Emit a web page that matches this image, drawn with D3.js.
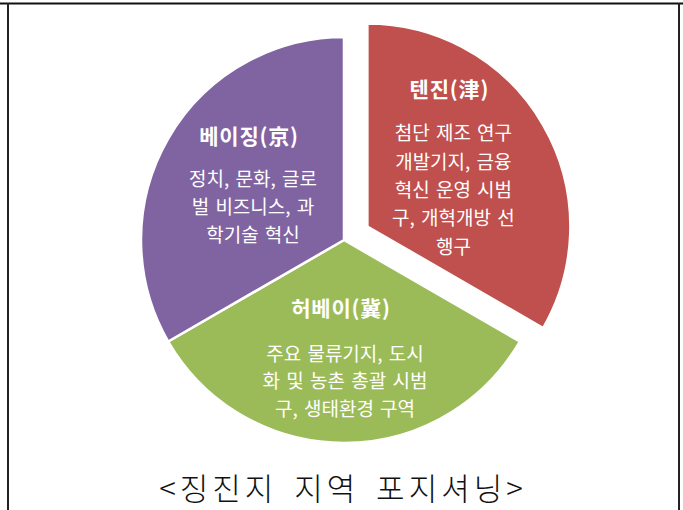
<!DOCTYPE html>
<html>
<head>
<meta charset="utf-8">
<script src="https://cdn.jsdelivr.net/npm/d3@7"></script>
<style>
  html, body { margin: 0; padding: 0; background: #fff; }
  svg { display: block; }
</style>
</head>
<body>
<svg id="chart" width="683" height="510"></svg>
<script>
// ---- data ----
const regions = ["텐진(津)", "허베이(冀)", "베이징(京)"];
const values = [1, 1, 1];
const colors = ["#C0504D", "#9BBB59", "#8064A2"];
const descriptions = [
  ["첨단 제조 연구", "개발기지, 금융", "혁신 운영 시범", "구, 개혁개방 선", "행구"],
  ["주요 물류기지, 도시", "화 및 농촌 총괄 시범", "구, 생태환경 구역"],
  ["정치, 문화, 글로", "벌 비즈니스, 과", "학기술 혁신"]
];
const caption = "<징진지 지역 포지셔닝>";

// ---- layout / style ----
const W = 683, H = 510;
const cx = 344, cy = 240, R = 203;
const explode = [27, 0, 0];
// label block centre, relative to each slice's own origin
const labelAt = [[86, -60], [1, 117], [-91, -56]];
const titleGap = [44, 45, 42];
const lineH = [28.3, 27.5, 28];
const svg = d3.select("#chart");
const fontKR = "'Noto Sans CJK KR', 'Noto Sans', sans-serif";

// frame
svg.append("line").attr("x1", 0).attr("x2", W).attr("y1", 3.5).attr("y2", 3.5)
  .attr("stroke", "#111").attr("stroke-width", 2);
svg.append("line").attr("x1", 8).attr("x2", 8).attr("y1", 3).attr("y2", H)
  .attr("stroke", "#222").attr("stroke-width", 2);
svg.append("line").attr("x1", 679).attr("x2", 679).attr("y1", 3).attr("y2", H)
  .attr("stroke", "#222").attr("stroke-width", 2);

const pie = d3.pie().sort(null).value(d => d)(values);
const arc = d3.arc().innerRadius(0).outerRadius(R);

const g = svg.append("g").attr("transform", `translate(${cx},${cy})`);

const slices = g.selectAll("g.slice").data(pie).join("g")
  .attr("class", "slice")
  .attr("transform", (d, i) => {
    const a = (d.startAngle + d.endAngle) / 2;
    return `translate(${Math.sin(a) * explode[i]},${-Math.cos(a) * explode[i]})`;
  });

slices.append("path")
  .attr("d", arc)
  .attr("fill", (d, i) => colors[i])
  .attr("stroke", "#fff")
  .attr("stroke-width", 2.5)
  .attr("stroke-linejoin", "round");

slices.each(function (d, i) {
  const [lx, ly] = labelAt[i];
  const lines = descriptions[i];
  const total = titleGap[i] + lineH[i] * (lines.length - 1);
  const top = ly - total / 2;
  const sel = d3.select(this);
  sel.append("text")
    .attr("x", lx - 4).attr("y", top)
    .attr("text-anchor", "middle")
    .attr("dominant-baseline", "central")
    .attr("fill", "#fff")
    .attr("font-family", fontKR)
    .attr("font-weight", 700)
    .attr("font-size", 21)
    .attr("letter-spacing", 0.8)
    .text(regions[i]);
  lines.forEach((t, k) => {
    sel.append("text")
      .attr("x", lx).attr("y", top + titleGap[i] + k * lineH[i])
      .attr("text-anchor", "middle")
      .attr("dominant-baseline", "central")
      .attr("fill", "#fff")
      .attr("font-family", fontKR)
      .attr("font-size", 19)
      .attr("word-spacing", 2)
      .text(t);
  });
});

svg.append("text")
  .attr("x", 343).attr("y", 486)
  .attr("text-anchor", "middle")
  .attr("dominant-baseline", "central")
  .attr("fill", "#111")
  .attr("font-family", fontKR)
  .attr("font-weight", 300)
  .attr("font-size", 31)
  .attr("letter-spacing", 4)
  .attr("word-spacing", 6)
  .text(caption);
</script>
</body>
</html>
